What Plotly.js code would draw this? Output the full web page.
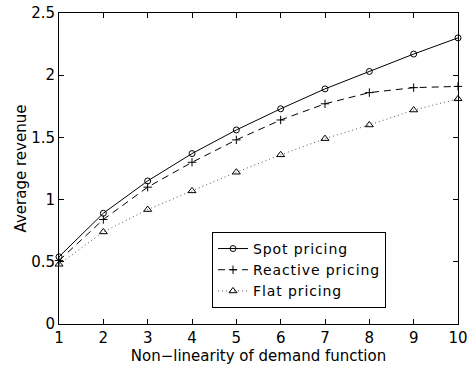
<!DOCTYPE html>
<html>
<head>
<meta charset="utf-8">
<script src="https://cdn.plot.ly/plotly-3.0.1.min.js"></script>
<style>
html,body{margin:0;padding:0;background:#fff;}
#chart{width:470px;height:365px;}
.legendtext{letter-spacing:0.9px;}
</style>
</head>
<body>
<div id="chart"></div>
<script>
const xValues = [1, 2, 3, 4, 5, 6, 7, 8, 9, 10];
const spotPricing = [0.54, 0.89, 1.15, 1.37, 1.56, 1.73, 1.89, 2.03, 2.17, 2.30];
const reactivePricing = [0.51, 0.84, 1.10, 1.30, 1.48, 1.64, 1.77, 1.86, 1.90, 1.91];
const flatPricing = [0.48, 0.74, 0.92, 1.07, 1.22, 1.36, 1.49, 1.60, 1.72, 1.81];
const seriesNames = ["Spot pricing", "Reactive pricing", "Flat pricing"];
const xTicks = [1, 2, 3, 4, 5, 6, 7, 8, 9, 10];
const yTicks = [0, 0.5, 1, 1.5, 2, 2.5];
const yTickLabels = ["0", "0.5", "1", "1.5", "2", "2.5"];

const font = {family: "DejaVu Sans, Arial, sans-serif", size: 15, color: "#000"};
const legendFont = {family: "DejaVu Sans, Arial, sans-serif", size: 14, color: "#000"};

const traces = [
  {x: xValues, y: spotPricing, name: seriesNames[0], mode: "lines+markers", cliponaxis: false,
   line: {color: "#000", width: 1, dash: "solid"},
   marker: {symbol: "circle-open", size: 6, color: "#000", line: {width: 1, color: "#000"}}},
  {x: xValues, y: reactivePricing, name: seriesNames[1], mode: "lines+markers", cliponaxis: false,
   line: {color: "#000", width: 1, dash: "7px,5px"},
   marker: {symbol: "cross-thin-open", size: 6, color: "#000", line: {width: 1, color: "#000"}}},
  {x: xValues, y: flatPricing, name: seriesNames[2], mode: "lines+markers", cliponaxis: false,
   line: {color: "#555", width: 1, dash: "1px,3px"},
   marker: {symbol: "triangle-up-open", size: 7, color: "#000", line: {width: 1, color: "#000"}}}
];

const axisCommon = {
  showline: true, linecolor: "#000", linewidth: 1, mirror: "ticks",
  ticks: "inside", ticklen: 5, tickwidth: 1, tickcolor: "#000",
  showgrid: false, zeroline: false, tickfont: font
};

const layout = {
  width: 470, height: 365,
  margin: {l: 59, r: 12, t: 13, b: 41},
  paper_bgcolor: "#fff", plot_bgcolor: "#fff",
  font: font,
  showlegend: true,
  legend: {
    x: 0.3835, y: 0.296, xanchor: "left", yanchor: "top",
    bgcolor: "#fff", bordercolor: "#000", borderwidth: 1,
    font: legendFont,
    tracegroupgap: 0, itemwidth: 30
  },
  xaxis: Object.assign({}, axisCommon, {
    range: [1, 10], tickvals: xTicks, ticktext: xTicks.map(String),
    title: {text: "Non\u2212linearity of demand function", font: font, standoff: 0}
  }),
  yaxis: Object.assign({}, axisCommon, {
    range: [0, 2.5], tickvals: yTicks, ticktext: yTickLabels,
    title: {text: "Average revenue", font: font, standoff: 0}
  })
};

Plotly.newPlot("chart", traces, layout, {displayModeBar: false, staticPlot: true});
</script>
</body>
</html>
